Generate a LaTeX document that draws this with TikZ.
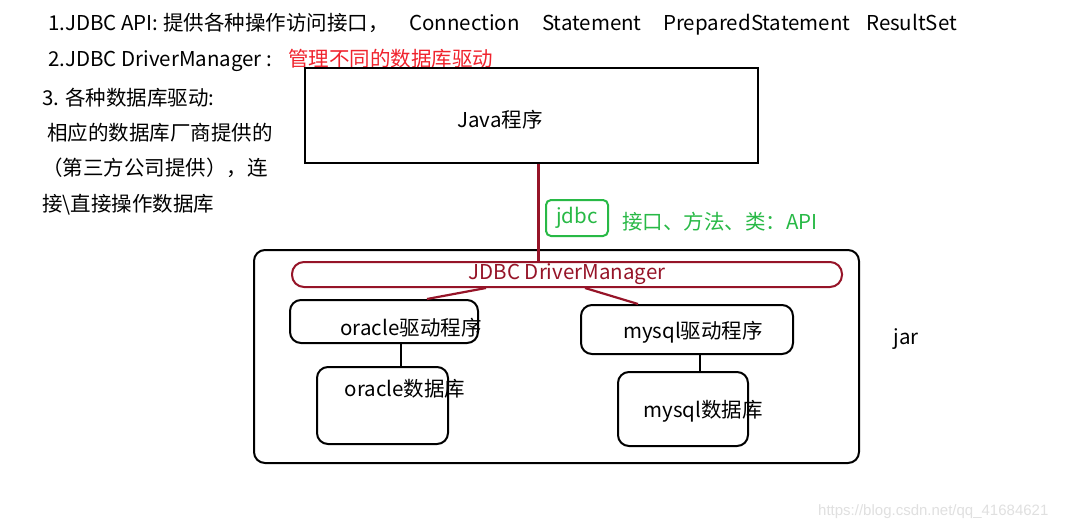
\documentclass[tikz,border=0pt]{standalone}
\usepackage{fontspec}
\setmainfont{Noto Sans CJK SC}
\newfontfamily\markfont{Liberation Sans}
\usetikzlibrary{positioning}
\definecolor{DarkRed}{RGB}{150,20,40}
\definecolor{BrightRed}{RGB}{240,35,45}
\definecolor{JdbcGreen}{RGB}{40,185,70}

\begin{document}
\begin{tikzpicture}[x=1pt, y=-1pt, font=\fontsize{20.5}{24}\selectfont,
	txt/.style={anchor=west, inner sep=0pt, text height=15pt, text depth=5pt},
	box/.style={draw, line width=2pt, rounded corners=11pt, inner sep=0pt}]
	\fill[white] (0,0) rectangle (1068,528);
	\useasboundingbox (0,0) rectangle (1068,528);
	
	% 左上说明文字
	\node[txt] (l1) at (48,25) {1.JDBC API: 提供各种操作访问接口，};
	\node[txt] (conn) at (409,25) {Connection};
	\node[txt] (stmt) at (542,25) {Statement};
	\node[txt] (pstmt) at (663,25) {PreparedStatement};
	\node[txt] (rs) at (866,25) {ResultSet};
	\node[txt] (l2) at (48,61) {2.JDBC DriverManager :};
	\node[txt, BrightRed] (l2r) at (288,61) {管理不同的数据库驱动};
	\node[txt] (l3) at (42,100) {3. 各种数据库驱动:};
	\node[txt] (l4) at (47,135) {相应的数据库厂商提供的};
	\node[txt] (l5) at (42,170) {（第三方公司提供），连};
	\node[txt] (l6) at (42,206) {接\textbackslash 直接操作数据库};
	
	% Java程序
	\node[draw, line width=2.6pt, minimum width=453pt, minimum height=95pt] (java) at (531.5,115.5) {};
	\node (javat) at (500,120) {Java程序};
	
	% jar 外框
	\node[box, minimum width=605pt, minimum height=213pt] (jarbox) at (556.5,356.5) {};
	\node (jar) at (906,339) {jar};
	
	% DriverManager
	\node[draw, DarkRed, line width=2pt, rounded corners=12pt, minimum width=550pt, minimum height=25pt, inner sep=0pt, text=DarkRed] (dm) at (567,274.5) {JDBC DriverManager};
	\draw[DarkRed, line width=2.6pt] ([xshift=7pt]java.south) -- ([xshift=7pt]java.south |- dm.north);
	
	% jdbc 标记
	\node[draw, JdbcGreen, line width=2pt, rounded corners=5pt, minimum width=62pt, minimum height=36pt, text=JdbcGreen] (jdbc) at (577,218) {jdbc};
	\node[txt, JdbcGreen] (api) at (622,224) {接口、方法、类：API};
	
	% 驱动程序
	\node[box, minimum width=188pt, minimum height=43pt] (orad) at (384,321.5) {};
	\node (oradt) at (411,328) {oracle驱动程序};
	\node[box, minimum width=212pt, minimum height=49pt] (myd) at (687,329.5) {};
	\node (mydt) at (693,332) {mysql驱动程序};
	
	% 数据库
	\node[box, minimum width=131pt, minimum height=77pt] (oradb) at (382.5,405.5) {};
	\node (oradbt) at (405,389) {oracle数据库};
	\node[box, minimum width=130pt, minimum height=74pt] (mydb) at (683,409) {};
	\node (mydbt) at (703,411) {mysql数据库};
	
	% 连线
	\draw[DarkRed, line width=2.2pt] (486,0 |- dm.south) -- (427,0 |- orad.north);
	\draw[DarkRed, line width=2.2pt] (585,0 |- dm.south) -- (638,0 |- myd.north);
	\draw[line width=2pt] (401,0 |- orad.south) -- (401,0 |- oradb.north);
	\draw[line width=2pt] (700,0 |- myd.south) -- (700,0 |- mydb.north);
	
	% 水印
	\node[txt, black!12, font=\markfont\fontsize{15}{18}\selectfont] (mark) at (818,510) {https://blog.csdn.net/qq\_41684621};
\end{tikzpicture}
\end{document}
